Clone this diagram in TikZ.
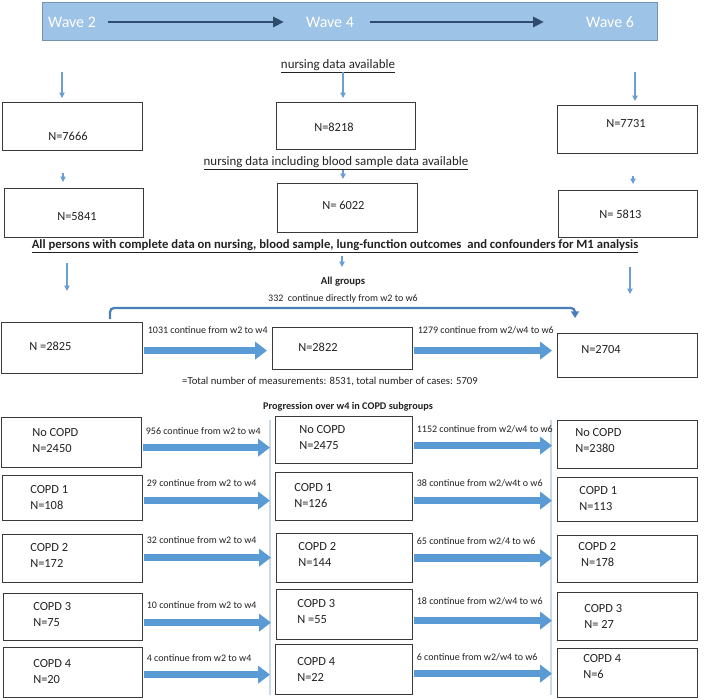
\documentclass[tikz,border=0pt]{standalone}
\usepackage{fontspec}
\setmainfont{Carlito}
\usetikzlibrary{arrows.meta}

\newlength{\px}\setlength{\px}{0.75pt}

\definecolor{bannerfill}{HTML}{9DC3E6}
\definecolor{bannerline}{HTML}{7393B3}
\definecolor{wavedark}{HTML}{2F4B6E}
\definecolor{thinblue}{HTML}{6A9FD3}
\definecolor{flowblue}{HTML}{5B9BD5}
\definecolor{bracketblue}{HTML}{4A7EBB}
\definecolor{boxline}{HTML}{3A3A3A}
\definecolor{guideline}{HTML}{CCDAE8}
\definecolor{inkgray}{HTML}{222222}

\tikzset{
  banner/.style={fill=bannerfill, draw=bannerline, line width=0.8pt, inner sep=0pt, anchor=north west},
  wavetxt/.style={text=white, font=\fontsize{12}{14}\selectfont, inner sep=0pt},
  wavearrow/.style={draw=wavedark, line width=2.2pt, -{Triangle[length=8pt,width=7.5pt]}},
  cbox/.style={draw=boxline, line width=0.9pt, inner sep=0pt, anchor=north west},
  boxtxt/.style={text=inkgray, font=\fontsize{9.3}{12}\selectfont, align=left, inner sep=0pt},
  intxt/.style n args={3}{label={[boxtxt, anchor=west, xshift=#1\px, yshift=-#2\px]north west:{#3}}},
  headtxt/.style={text=inkgray, font=\fontsize{9.7}{11}\selectfont, inner sep=0pt},
  subhead/.style={text=inkgray, font=\fontsize{8}{10}\selectfont\bfseries, inner sep=0pt},
  lbl/.style={text=inkgray, font=\fontsize{7.5}{9}\selectfont, inner sep=0pt},
  thinarrow/.style={draw=thinblue, line width=0.8pt, -{Triangle[length=4pt,width=4pt]}},
  flow/.style={draw=flowblue, line width=5.5pt, -{Triangle[length=9pt,width=13pt]}, shorten <=1\px, shorten >=5\px},
  bracketline/.style={draw=bracketblue, line width=1.7pt, rounded corners=3pt, -{Triangle[length=5pt,width=6pt]}},
  guide/.style={draw=guideline, line width=0.8pt},
}

\begin{document}
\begin{tikzpicture}[x=0.75pt,y=-0.75pt]
\useasboundingbox (0,0) rectangle (709,699);

%Banner with the waves
\node[banner, minimum width=615\px, minimum height=38\px] (banner) at (42,2) {};
\node[wavetxt] (wave2) at (72,22) {Wave 2};
\node[wavetxt] (wave4) at (330,22) {Wave 4};
\node[wavetxt] (wave6) at (610,22) {Wave 6};
\draw[wavearrow, shorten <=12\px, shorten >=22\px] (wave2) -- (wave4);
\draw[wavearrow, shorten <=16\px, shorten >=42\px] (wave4) -- (wave6);

%nursing data
\node[headtxt] (nursing) at (338,66) {\underline{nursing data available}};
\coordinate (a2) at (62,72);
\coordinate (a4) at (343,72);
\coordinate (a6) at (635,72);

%Shape: Rectangle
\node[cbox, minimum width=140\px, minimum height=48\px, intxt={46}{34}{N=7666}] (w2a) at (2,102) {};
\node[cbox, minimum width=139\px, minimum height=47\px, intxt={38}{25}{N=8218}] (w4a) at (276,102) {};
\node[cbox, minimum width=140\px, minimum height=48\px, intxt={49}{19}{N=7731}] (w6a) at (557,105) {};

\draw[thinarrow, shorten >=4\px] (a2) -- (a2 |- w2a.north);
\draw[thinarrow, shorten >=4\px] (a4) -- (a4 |- w4a.north);
\draw[thinarrow, shorten >=4\px] (a6) -- (a6 |- w6a.north);

%nursing and blood sample data
\node[headtxt] (blood) at (336,163) {\underline{nursing data including blood sample data available}};
\coordinate (b2) at (63,173);
\coordinate (b4) at (343,170);
\coordinate (b6) at (633,176);

%Shape: Rectangle
\node[cbox, minimum width=139\px, minimum height=49\px, intxt={53}{28}{N=5841}] (w2b) at (4,188) {};
\node[cbox, minimum width=140\px, minimum height=49\px, intxt={45}{22}{N= 6022}] (w4b) at (277,183) {};
\node[cbox, minimum width=139\px, minimum height=47\px, intxt={41}{24}{N= 5813}] (w6b) at (558,190) {};

\draw[thinarrow, shorten >=6\px] (b2) -- (b2 |- w2b.north);
\draw[thinarrow, shorten >=4\px] (b4) -- (b4 |- w4b.north);
\draw[thinarrow, shorten >=6\px] (b6) -- (b6 |- w6b.north);

%complete data
\node[headtxt, font=\fontsize{9.5}{11}\selectfont\bfseries] (complete) at (335,246) {\underline{All persons with complete data on nursing, blood sample, lung-function outcomes\ \ and confounders for M1 analysis}};
\coordinate (p2s) at (67,263);
\coordinate (p2e) at (67,291);
\coordinate (p4s) at (342,256);
\coordinate (p4e) at (342,267);
\coordinate (p6s) at (630,267);
\coordinate (p6e) at (630,294);
\draw[thinarrow] (p2s) -- (p2e);
\draw[thinarrow] (p4s) -- (p4e);
\draw[thinarrow] (p6s) -- (p6e);

%All groups
\node[subhead] (allgroups) at (343,282) {All groups};
\node[lbl] (direct) at (343,299) {332\ \ continue directly from w2 to w6};

%Shape: Rectangle
\node[cbox, minimum width=141\px, minimum height=51\px, intxt={28}{24}{N =2825}] (g2) at (1,322) {};
\node[cbox, minimum width=140\px, minimum height=42\px, intxt={26}{20}{N=2822}] (g4) at (272,327) {};
\node[cbox, minimum width=140\px, minimum height=44\px, intxt={24}{17}{N=2704}] (g6) at (557,333) {};

\draw[bracketline] ([xshift=109\px,yshift=3\px]g2.north west) |- ([xshift=18\px,yshift=25\px]g6.north west) -- ([xshift=18\px,yshift=15\px]g6.north west);
\draw[flow] ([yshift=-2.5\px]g2.east) -- ([yshift=-2.5\px]g2.east -| g4.west) node[lbl, pos=0, anchor=south west, xshift=1\px, yshift=13\px] (l1031) {1031 continue from w2 to w4};
\draw[flow] ([yshift=-2\px]g4.east) -- ([yshift=-2\px]g4.east -| g6.west) node[lbl, pos=0, anchor=south west, xshift=1\px, yshift=13\px] (l1279) {1279 continue from w2/w4 to w6};

\node[lbl, font=\fontsize{8}{9}\selectfont] (total) at (330,381) {=Total number of measurements: 8531, total number of cases: 5709};
\node[subhead, font=\fontsize{7.7}{9}\selectfont\bfseries] (progression) at (348,407) {Progression over w4 in COPD subgroups};

%guide lines
\draw[guide] (270,420) -- (270,695);
\draw[guide] (551,420) -- (551,695);

%Shape: Rectangle, wave 2
\node[cbox, minimum width=140\px, minimum height=50\px, intxt={31}{24}{No COPD\\N=2450}] (c0a) at (1,417) {};
\node[cbox, minimum width=140\px, minimum height=45\px, intxt={28}{23}{COPD 1\\N=108}] (c1a) at (2,475) {};
\node[cbox, minimum width=140\px, minimum height=48\px, intxt={28}{21}{COPD 2\\N=172}] (c2a) at (2,534) {};
\node[cbox, minimum width=139\px, minimum height=47\px, intxt={30}{22}{COPD 3\\N=75}] (c3a) at (3,593) {};
\node[cbox, minimum width=139\px, minimum height=50\px, intxt={30}{25}{COPD 4\\N=20}] (c4a) at (3,647) {};

%Shape: Rectangle, wave 4
\node[cbox, minimum width=137\px, minimum height=47\px, intxt={24}{22}{No COPD\\N=2475}] (c0b) at (275,416) {};
\node[cbox, minimum width=137\px, minimum height=48\px, intxt={19}{24}{COPD 1\\N=126}] (c1b) at (275,472) {};
\node[cbox, minimum width=136\px, minimum height=49\px, intxt={22}{21}{COPD 2\\N=144}] (c2b) at (276,533) {};
\node[cbox, minimum width=136\px, minimum height=50\px, intxt={21}{23}{COPD 3\\N =55}] (c3b) at (276,589) {};
\node[cbox, minimum width=137\px, minimum height=50\px, intxt={22}{25}{COPD 4\\N=22}] (c4b) at (275,644) {};

%Shape: Rectangle, wave 6
\node[cbox, minimum width=140\px, minimum height=48\px, intxt={18}{21}{No COPD\\N=2380}] (c0c) at (557,420) {};
\node[cbox, minimum width=140\px, minimum height=44\px, intxt={22}{22}{COPD 1\\N=113}] (c1c) at (557,477) {};
\node[cbox, minimum width=140\px, minimum height=47\px, intxt={21}{20}{COPD 2\\\ N=178}] (c2c) at (557,535) {};
\node[cbox, minimum width=140\px, minimum height=48\px, intxt={27}{24}{COPD 3\\N= 27}] (c3c) at (557,592) {};
\node[cbox, minimum width=140\px, minimum height=49\px, intxt={26}{19}{COPD 4\\N=6}] (c4c) at (557,648) {};

%Block arrows w2 to w4
\draw[flow] ([yshift=-5\px]c0a.east) -- ([yshift=-5\px]c0a.east -| c0b.west) node[lbl, pos=0, anchor=south west, yshift=9\px] (l956) {956 continue from w2 to w4};
\draw[flow] ([yshift=-2.5\px]c1a.east) -- ([yshift=-2.5\px]c1a.east -| c1b.west) node[lbl, pos=0, anchor=south west, yshift=10\px] (l29) {29 continue from w2 to w4};
\draw[flow] ([yshift=1\px]c2a.east) -- ([yshift=1\px]c2a.east -| c2b.west) node[lbl, pos=0, anchor=south west, yshift=10\px] (l32) {32 continue from w2 to w4};
\draw[flow] ([yshift=-5.5\px]c3a.east) -- ([yshift=-5.5\px]c3a.east -| c3b.west) node[lbl, pos=0, anchor=south west, yshift=10\px] (l10) {10 continue from w2 to w4};
\draw[flow] ([yshift=-2\px]c4a.east) -- ([yshift=-2\px]c4a.east -| c4b.west) node[lbl, pos=0, anchor=south west, yshift=9\px] (l4) {4 continue from w2 to w4};

%Block arrows w4 to w6
\draw[flow] ([yshift=-5.5\px]c0b.east) -- ([yshift=-5.5\px]c0b.east -| c0c.west) node[lbl, pos=0, anchor=south west, yshift=9\px] (l1152) {1152 continue from w2/w4 to w6};
\draw[flow] ([yshift=-4\px]c1b.east) -- ([yshift=-4\px]c1b.east -| c1c.west) node[lbl, pos=0, anchor=south west, yshift=10\px] (l38) {38 continue from w2/w4t o w6};
\draw[flow] ([yshift=0\px]c2b.east) -- ([yshift=0\px]c2b.east -| c2c.west) node[lbl, pos=0, anchor=south west, yshift=10\px] (l65) {65 continue from w2/4 to w6};
\draw[flow] ([yshift=-6\px]c3b.east) -- ([yshift=-6\px]c3b.east -| c3c.west) node[lbl, pos=0, anchor=south west, yshift=12\px] (l18) {18 continue from w2/w4 to w6};
\draw[flow] ([yshift=-4\px]c4b.east) -- ([yshift=-4\px]c4b.east -| c4c.west) node[lbl, pos=0, anchor=south west, yshift=9\px] (l6) {6 continue from w2/w4 to w6};

\end{tikzpicture}
\end{document}
